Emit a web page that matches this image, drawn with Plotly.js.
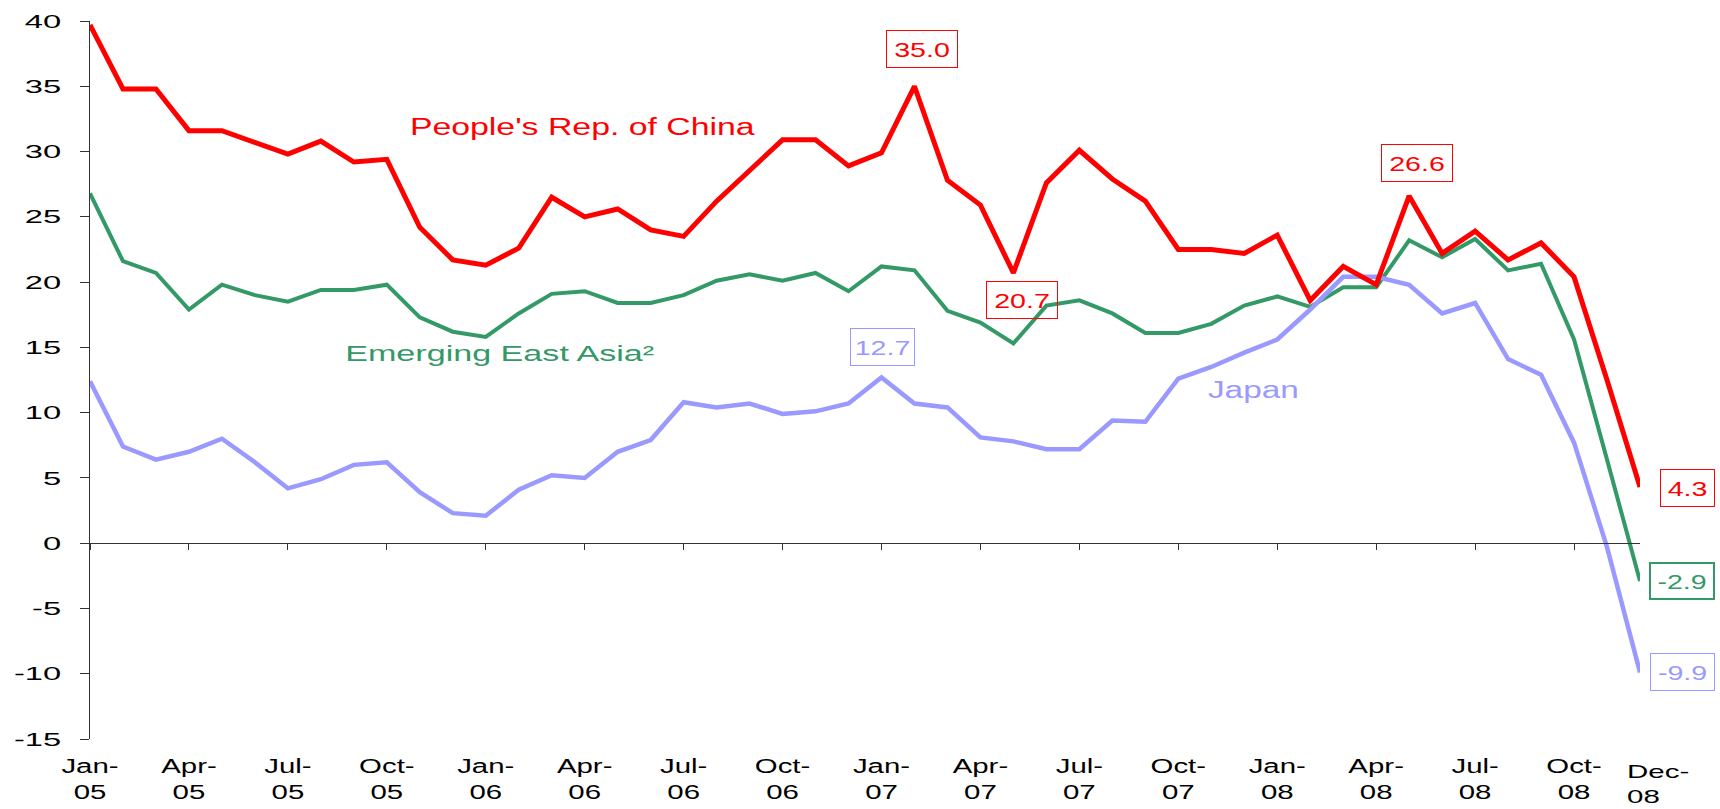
<!DOCTYPE html>
<html>
<head>
<meta charset="utf-8">
<script src="https://cdn.plot.ly/plotly-3.0.1.min.js"></script>
<style>
  html, body { margin: 0; padding: 0; background: #ffffff; }
  #chart { width: 1720px; height: 809px; }
</style>
</head>
<body>
<div id="chart"></div>
<script>
// ---------- data ----------
const months = [
  "Jan-05","Feb-05","Mar-05","Apr-05","May-05","Jun-05","Jul-05","Aug-05","Sep-05","Oct-05","Nov-05","Dec-05",
  "Jan-06","Feb-06","Mar-06","Apr-06","May-06","Jun-06","Jul-06","Aug-06","Sep-06","Oct-06","Nov-06","Dec-06",
  "Jan-07","Feb-07","Mar-07","Apr-07","May-07","Jun-07","Jul-07","Aug-07","Sep-07","Oct-07","Nov-07","Dec-07",
  "Jan-08","Feb-08","Mar-08","Apr-08","May-08","Jun-08","Jul-08","Aug-08","Sep-08","Oct-08","Nov-08","Dec-08"
];

const china = [
  39.7, 34.8, 34.8, 31.6, 31.6, 30.7, 29.8, 30.8, 29.2, 29.4, 24.2, 21.7,
  21.3, 22.6, 26.5, 25.0, 25.6, 24.0, 23.5, 26.2, 28.6, 30.9, 30.9, 28.9,
  29.9, 35.0, 27.8, 25.9, 20.7, 27.6, 30.1, 27.9, 26.2, 22.5, 22.5, 22.2,
  23.6, 18.6, 21.2, 19.8, 26.6, 22.2, 23.9, 21.7, 23.0, 20.4, 12.5, 4.3
];

const emergingEastAsia = [
  26.8, 21.6, 20.7, 17.9, 19.8, 19.0, 18.5, 19.4, 19.4, 19.8, 17.3, 16.2,
  15.8, 17.6, 19.1, 19.3, 18.4, 18.4, 19.0, 20.1, 20.6, 20.1, 20.7, 19.3,
  21.2, 20.9, 17.8, 16.9, 15.3, 18.2, 18.6, 17.6, 16.1, 16.1, 16.8, 18.2,
  18.9, 18.1, 19.6, 19.6, 23.2, 21.9, 23.3, 20.9, 21.4, 15.6, 6.4, -2.9
];

const japan = [
  12.4, 7.4, 6.4, 7.0, 8.0, 6.2, 4.2, 4.9, 6.0, 6.2, 3.9, 2.3,
  2.1, 4.1, 5.2, 5.0, 7.0, 7.9, 10.8, 10.4, 10.7, 9.9, 10.1, 10.7,
  12.7, 10.7, 10.4, 8.1, 7.8, 7.2, 7.2, 9.4, 9.3, 12.6, 13.5, 14.6,
  15.6, 17.9, 20.4, 20.4, 19.8, 17.6, 18.4, 14.1, 12.9, 7.7, -0.3, -9.9
];

const tickMonths = [
  "Jan-05","Apr-05","Jul-05","Oct-05","Jan-06","Apr-06","Jul-06","Oct-06",
  "Jan-07","Apr-07","Jul-07","Oct-07","Jan-08","Apr-08","Jul-08","Oct-08"
];
const lastMonthLabel = "Dec-08";
const yTicks = [-15, -10, -5, 0, 5, 10, 15, 20, 25, 30, 35, 40];

const seriesNames = ["People's Rep. of China", "Emerging East Asia\u00b2", "Japan"];

// ---------- styling ----------
const RED = "#FF0000", GREEN = "#339966", BLUE = "#9999FF";
const FONT = "Liberation Sans, Arial, Helvetica, sans-serif";
const AXIS = "#333333";
const yRange = [-15, 40];
const last = months.length - 1;

const traces = [
  { x: months, y: emergingEastAsia, name: seriesNames[1], mode: "lines",
    line: { color: GREEN, width: 4 }, hoverinfo: "skip" },
  { x: months, y: japan, name: seriesNames[2], mode: "lines",
    line: { color: BLUE, width: 4.5 }, hoverinfo: "skip" },
  { x: months, y: china, name: seriesNames[0], mode: "lines",
    line: { color: RED, width: 5 }, hoverinfo: "skip" }
];

function valueBox(series, idx, color, dx, dy, w, bw) {
  return {
    xref: "x", yref: "y", x: months[idx], y: series[idx],
    text: series[idx].toFixed(1), showarrow: false,
    xshift: dx, yshift: dy, width: w - 2 * bw, height: 38 - 2 * bw,
    bordercolor: color, borderwidth: bw, borderpad: 0, bgcolor: "rgba(255,255,255,0)",
    font: { family: FONT, size: 21, color: color }, align: "center", valign: "middle"
  };
}

const annotations = [
  { xref: "x", yref: "y", x: 14.92, y: 31.9, text: seriesNames[0], showarrow: false,
    font: { family: FONT, size: 23, color: RED } },
  { xref: "x", yref: "y", x: 12.43, y: 14.5, text: seriesNames[1], showarrow: false,
    font: { family: FONT, size: 22, color: GREEN } },
  { xref: "x", yref: "y", x: 35.27, y: 11.75, text: seriesNames[2], showarrow: false,
    font: { family: FONT, size: 23, color: BLUE } },
  valueBox(china, 25, RED, 7.5, 37.4, 72, 1),
  valueBox(china, 28, RED, 8.6, -26.9, 72, 1),
  valueBox(japan, 24, BLUE, 1.5, 30.5, 65, 1),
  valueBox(china, 40, RED, 7.8, 33, 72, 1),
  valueBox(china, last, RED, 47, -0.8, 55, 1),
  valueBox(emergingEastAsia, last, GREEN, 42, 0, 66, 2),
  valueBox(japan, last, BLUE, 42, 0, 65, 1),
  { xref: "x", yref: "paper", x: months[last], y: 0, text: lastMonthLabel.replace("-", "-<br>"),
    showarrow: false, xanchor: "left", yanchor: "top", align: "left",
    xshift: -15, yshift: -20, font: { family: FONT, size: 19, color: "#000000" } }
];
const annStretch = [1.47, 1.55, 1.45, 1.36, 1.36, 1.36, 1.36, 1.36, 1.36, 1.36, 1.55];

const layout = {
  width: 1720, height: 809,
  margin: { l: 90, r: 80, t: 21, b: 70, pad: 0 },
  paper_bgcolor: "#ffffff", plot_bgcolor: "#ffffff",
  showlegend: false,
  font: { family: FONT, size: 21, color: "#000000" },
  xaxis: {
    type: "category", range: [0, last],
    anchor: "free", position: (0 - yRange[0]) / (yRange[1] - yRange[0]),
    showline: true, linecolor: AXIS, linewidth: 1,
    ticks: "outside", ticklen: 6, tickwidth: 1, tickcolor: AXIS,
    tickmode: "array", tickvals: tickMonths,
    ticktext: tickMonths.map(m => m.replace("-", "-<br>")),
    tickfont: { family: FONT, size: 20, color: "#000000" },
    ticklabelstandoff: 199,
    showgrid: false, zeroline: false, fixedrange: true
  },
  yaxis: {
    range: yRange, tickmode: "array", tickvals: yTicks, ticktext: yTicks.map(v => String(v)),
    showline: true, linecolor: AXIS, linewidth: 1,
    ticks: "outside", ticklen: 9, tickwidth: 1, tickcolor: AXIS,
    tickfont: { family: FONT, size: 19, color: "#000000" },
    ticklabelstandoff: 15,
    showgrid: false, zeroline: false, fixedrange: true
  },
  annotations: annotations
};

function stretchNode(n, k) {
  const w = n.getComputedTextLength();
  if (w > 0) {
    n.setAttribute("textLength", (w * k).toFixed(1));
    n.setAttribute("lengthAdjust", "spacingAndGlyphs");
  }
}
function stretchText(t, k) {
  const lines = t.querySelectorAll("tspan.line");
  if (lines.length) lines.forEach(l => stretchNode(l, k));
  else stretchNode(t, k);
}

const gd = document.getElementById("chart");
Plotly.newPlot(gd, traces, layout, { displayModeBar: false, staticPlot: true }).then(() => {
  gd.querySelectorAll(".ytick text").forEach(t => stretchText(t, 1.72));
  gd.querySelectorAll(".xtick text").forEach(t => stretchText(t, 1.47));
  annStretch.forEach((k, i) => {
    const t = gd.querySelector('.annotation[data-index="' + i + '"] text.annotation-text');
    if (t) stretchText(t, k);
  });
});
</script>
</body>
</html>
